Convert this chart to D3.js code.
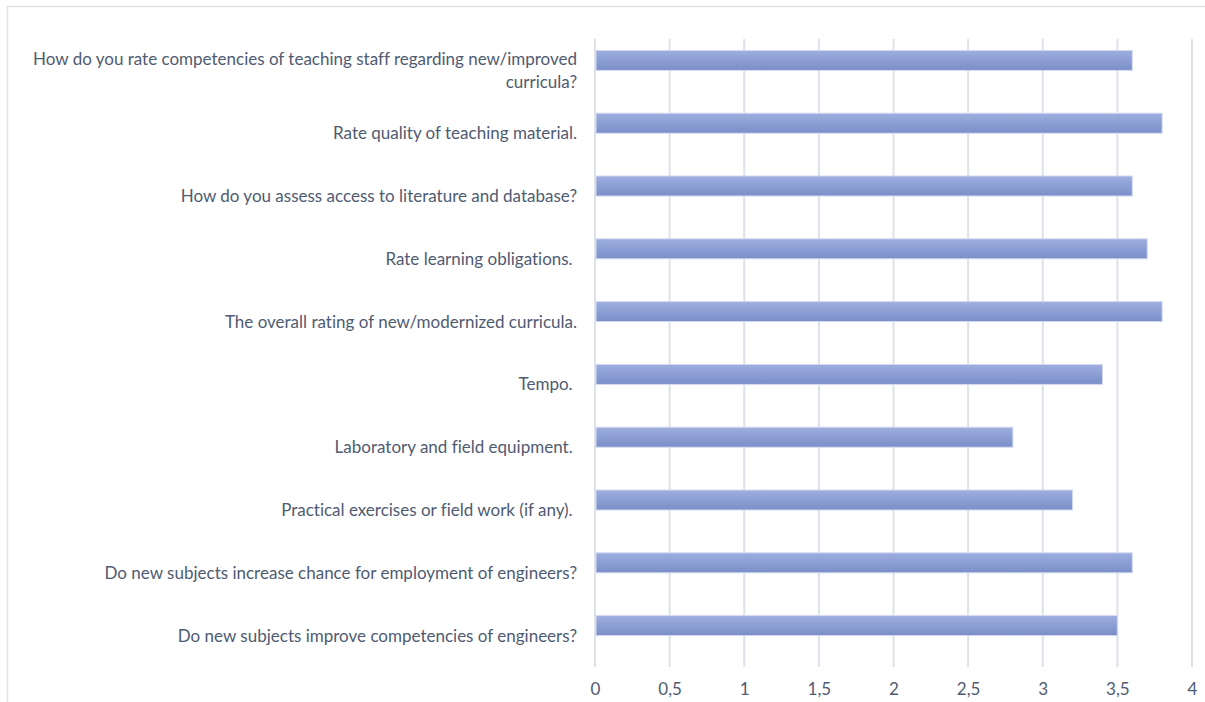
<!DOCTYPE html>
<html><head><meta charset="utf-8">
<script src="https://cdn.jsdelivr.net/npm/d3@7"></script>
<style>body{margin:0;background:#fff}svg{display:block}text{font-variant-ligatures:none;white-space:pre}</style>
</head><body>
<svg id="c" width="1205" height="702"></svg>
<script>
const categories = [
  ["How do you rate competencies of teaching staff regarding new/improved", "curricula?"],
  ["Rate quality of teaching material."],
  ["How do you assess access to literature and database?"],
  ["Rate learning obligations. "],
  ["The overall rating of new/modernized curricula."],
  ["Tempo. "],
  ["Laboratory and field equipment. "],
  ["Practical exercises or field work (if any). "],
  ["Do new subjects increase chance for employment of engineers?"],
  ["Do new subjects improve competencies of engineers?"]
];
const values = [3.6, 3.8, 3.6, 3.7, 3.8, 3.4, 2.8, 3.2, 3.6, 3.5];
const ticks = [0, 0.5, 1, 1.5, 2, 2.5, 3, 3.5, 4];
const tickLabels = ["0", "0,5", "1", "1,5", "2", "2,5", "3", "3,5", "4"];

const svg = d3.select("#c");
const font = "Lato, 'Open Sans', sans-serif";
const textColor = "#4f5b72";

// frame
svg.append("rect").attr("x", 7.5).attr("y", 6.5).attr("width", 1215).attr("height", 720)
  .attr("fill", "none").attr("stroke", "#e1e3e6").attr("stroke-width", 1.5);

const x = d3.scaleLinear().domain([0, 4]).range([595, 1192]);
const y = d3.scaleBand().domain(d3.range(categories.length)).range([39, 667]).paddingInner(0).paddingOuter(0);

const defs = svg.append("defs");
const g = defs.append("linearGradient").attr("id", "bg").attr("x1", 0).attr("y1", 0).attr("x2", 0).attr("y2", 1);
g.append("stop").attr("offset", "0%").attr("stop-color", "#9eaedf");
g.append("stop").attr("offset", "100%").attr("stop-color", "#7a8ec8");

// gridlines
svg.append("g").selectAll("line").data(ticks).join("line")
  .attr("x1", d => x(d)).attr("x2", d => x(d))
  .attr("y1", 39).attr("y2", 667)
  .attr("stroke", "#dde1e8").attr("stroke-width", 2);

// bars (3D-style offset up)
const barH = 20, offset = -10;
svg.append("g").selectAll("rect").data(values).join("rect")
  .attr("x", x(0) + 1)
  .attr("y", (d, i) => y(i) + y.bandwidth() / 2 - barH / 2 + offset)
  .attr("width", d => x(d) - x(0) - 1)
  .attr("height", barH)
  .attr("fill", "url(#bg)")
  .attr("stroke", "#d3daf0").attr("stroke-width", 1);

// category labels
const lab = svg.append("g").attr("font-family", font).attr("font-size", 17).attr("fill", textColor).attr("text-anchor", "end");
categories.forEach((lines, i) => {
  const cy = y(i) + y.bandwidth() / 2;
  const lh = 23;
  const startY = cy - (lines.length - 1) * lh / 2;
  const t = lab.append("text");
  lines.forEach((ln, k) => {
    t.append("tspan").attr("x", 577).attr("y", startY + k * lh).attr("dy", "0.35em").text(ln);
  });
});

// x axis labels
const axis = d3.axisBottom(x).tickValues(ticks).tickFormat((d, i) => tickLabels[i]).tickSize(0).tickPadding(0);
const ag = svg.append("g").attr("transform", "translate(0,683)").call(axis);
ag.select(".domain").remove();
ag.selectAll("text").attr("font-family", font).attr("font-size", 17).attr("fill", textColor);
</script>
</body></html>
